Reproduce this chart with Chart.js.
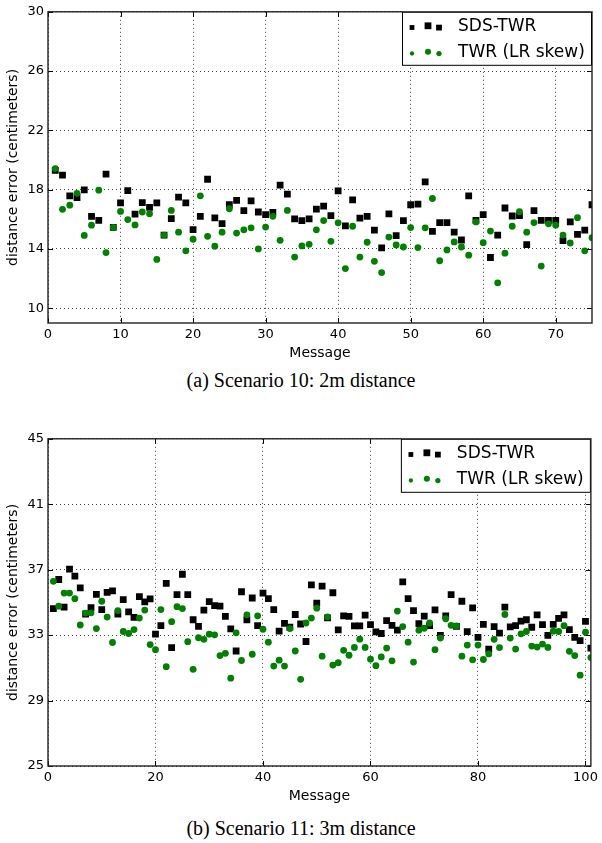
<!DOCTYPE html>
<html>
<head>
<meta charset="utf-8">
<script src="https://cdn.jsdelivr.net/npm/chart.js@4.4.1/dist/chart.umd.min.js"></script>
<style>
  body { margin: 0; background: #fff; }
  #wrap { position: relative; width: 602px; height: 843px; }
  canvas { position: absolute; left: 0; }
  .caption {
    position: absolute; left: 0; width: 602px; text-align: center;
    font-family: "Liberation Serif", "Times New Roman", serif; font-size: 20px; color: #000;
  }
</style>
</head>
<body>
<div id="wrap">
  <canvas id="chartA" width="602" height="368" style="top:0"></canvas>
  <div class="caption" style="top:369px">(a) Scenario 10: 2m distance</div>
  <canvas id="chartB" width="602" height="384" style="top:427px"></canvas>
  <div class="caption" style="top:817px">(b) Scenario 11: 3m distance</div>
</div>
<script>
// scenario 10 (2m) - one value per message, 1..75
const sdsA = [19.3, 18.98, 17.58, 17.47, 17.98, 16.2, 15.93, 19.05, 15.45, 17.1,
  17.93, 16.35, 17.13, 16.8, 17.1, 14.93, 16.05, 17.5, 17.1, 15.3,
  16.2, 18.7, 16.1, 15.7, 16.98, 17.27, 16.58, 17.24, 16.49, 16.31,
  16.47, 18.31, 17.69, 16.02, 15.91, 16.02, 16.69, 16.89, 16.24, 17.91,
  15.56, 17.31, 16.07, 16.2, 15.27, 14.07, 16.36, 14.89, 15.91, 16.98,
  17.02, 18.53, 15.18, 15.78, 15.78, 15.13, 14.6, 17.58, 15.93, 16.31,
  13.42, 14.93, 16.76, 16.22, 16.24, 14.29, 16.58, 15.93, 15.93, 15.93,
  14.56, 15.82, 14.98, 15.27, 16.98];
const twrA = [19.42, 16.67, 16.95, 17.75, 14.91, 15.6, 17.96, 13.75, 15.45, 16.53,
  15.98, 15.62, 16.49, 16.38, 13.29, 14.93, 16.6, 15.13, 13.87, 14.65,
  17.58, 14.85, 14.18, 15.13, 16.71, 15.07, 15.29, 15.42, 14.0, 15.47,
  16.2, 14.58, 16.6, 13.45, 14.2, 14.31, 15.29, 15.91, 14.51, 15.76,
  12.67, 15.53, 13.45, 14.45, 13.16, 12.4, 14.8, 14.27, 14.13, 15.44,
  14.09, 15.42, 17.4, 13.2, 13.93, 14.47, 14.13, 13.58, 15.82, 14.42,
  15.2, 11.71, 13.71, 15.53, 16.51, 15.13, 15.78, 12.84, 15.69, 15.6,
  14.93, 14.4, 16.11, 13.87, 14.76];
const xTicksA = [0, 10, 20, 30, 40, 50, 60, 70];
const yTicksA = [10, 14, 18, 22, 26, 30];

// scenario 11 (3m) - messages 1..101
const sdsB = [34.62, 36.4, 34.71, 37.04, 36.61, 35.89, 34.29, 34.68, 35.49, 34.56,
  35.61, 35.71, 34.29, 35.17, 34.42, 34.08, 35.35, 35.03, 35.21, 33.06,
  33.58, 36.16, 32.24, 35.47, 36.72, 35.47, 33.94, 33.54, 34.53, 35.05,
  34.8, 34.77, 34.14, 33.38, 32.03, 35.65, 33.94, 35.27, 33.58, 35.57,
  35.23, 34.56, 33.24, 33.72, 33.48, 34.26, 33.68, 32.61, 36.07, 34.95,
  35.99, 34.06, 35.59, 33.32, 34.18, 34.14, 33.56, 33.56, 34.22, 33.64,
  33.2, 33.1, 33.88, 33.6, 33.3, 36.25, 35.23, 34.5, 33.7, 34.16,
  33.58, 34.54, 32.98, 34.18, 35.47, 33.54, 35.07, 33.22, 34.67, 32.86,
  33.66, 32.15, 33.52, 33.12, 34.71, 33.5, 33.58, 33.86, 33.94, 33.48,
  34.24, 33.64, 32.99, 33.66, 34.02, 34.24, 33.34, 32.86, 32.66, 33.84,
  32.21];
const twrB = [36.29, 34.77, 35.57, 35.57, 35.23, 33.62, 34.35, 34.36, 33.4, 35.07,
  34.1, 32.55, 34.5, 33.22, 33.1, 33.34, 34.04, 34.53, 32.42, 32.11,
  34.56, 31.07, 33.82, 34.74, 34.62, 32.6, 30.91, 32.84, 32.74, 33.06,
  33.02, 31.75, 31.89, 30.37, 33.14, 31.45, 34.24, 31.83, 34.18, 33.36,
  32.57, 31.11, 31.47, 31.11, 33.4, 32.03, 30.3, 33.74, 34.04, 34.65,
  31.71, 34.12, 31.17, 31.31, 32.07, 31.77, 32.25, 32.75, 32.25, 31.53,
  31.13, 31.67, 32.21, 31.43, 34.47, 33.52, 32.57, 31.35, 33.3, 33.42,
  33.74, 32.11, 32.82, 34.0, 33.6, 33.56, 31.71, 32.39, 31.49, 32.39,
  31.51, 31.85, 32.74, 32.24, 34.26, 32.82, 32.15, 33.08, 33.22, 32.33,
  32.27, 32.45, 32.25, 33.24, 33.22, 33.58, 32.01, 31.75, 30.55, 33.18,
  31.63];
const xTicksB = [0, 20, 40, 60, 80, 100];
const yTicksB = [25, 29, 33, 37, 41, 45];

const seriesNames = ["SDS-TWR", "TWR (LR skew)"];

Chart.defaults.font.family = "DejaVu Sans";
Chart.defaults.color = "#000";

// box round the plot with inward ticks on all four sides
const framePlugin = {
  id: "frame",
  afterDraw(chart) {
    const {ctx, chartArea: a, scales} = chart;
    ctx.save();
    ctx.strokeStyle = "#000";
    ctx.lineWidth = 1;
    ctx.beginPath();
    scales.x.ticks.forEach(t => {
      const px = Math.round(scales.x.getPixelForValue(t.value)) + 0.5;
      ctx.moveTo(px, a.bottom); ctx.lineTo(px, a.bottom - 5);
      ctx.moveTo(px, a.top); ctx.lineTo(px, a.top + 5);
    });
    scales.y.ticks.forEach(t => {
      const py = Math.round(scales.y.getPixelForValue(t.value)) + 0.5;
      ctx.moveTo(a.left, py); ctx.lineTo(a.left + 5, py);
      ctx.moveTo(a.right, py); ctx.lineTo(a.right - 5, py);
    });
    ctx.stroke();
    ctx.strokeStyle = "#222";
    ctx.lineWidth = 1.4;
    ctx.strokeRect(a.left, a.top, a.right - a.left, a.bottom - a.top);
    ctx.restore();
  }
};

// matplotlib-like legend with three scatter markers per entry
const markerLegend = {
  id: "markerLegend",
  afterDraw(chart) {
    const {ctx, chartArea: a} = chart;
    const w = 190, h = 54;
    const left = a.right - w, top = a.top;
    ctx.save();
    ctx.fillStyle = "#fff";
    ctx.fillRect(left, top, w, h);
    ctx.strokeStyle = "#000";
    ctx.lineWidth = 1;
    ctx.strokeRect(left + 0.5, top + 0.5, w - 1, h - 1);
    const offs = [[10, 0.7, 4.8], [26, -1, 6.8], [37, 0.8, 5.8]];
    chart.data.datasets.forEach((ds, i) => {
      const y = top + 15 + i * 26;
      ctx.fillStyle = ds.backgroundColor;
      offs.forEach(([dx, dy, s]) => {
        ctx.beginPath();
        if (ds.pointStyle === "rect") {
          ctx.rect(left + dx - s / 2, y + dy - s / 2, s, s);
        } else {
          ctx.arc(left + dx, y + dy, s * 0.45, 0, Math.PI * 2);
        }
        ctx.fill();
      });
      ctx.fillStyle = "#000";
      ctx.font = "17px 'DejaVu Sans'";
      ctx.textBaseline = "middle";
      ctx.textAlign = "left";
      ctx.fillText(ds.label, left + 56, y);
    });
    ctx.restore();
  }
};

function makeChart(id, sds, twr, xMax, xTicks, yMin, yMax, yTicks) {
  const msgs = sds.map((_, i) => i + 1);
  return new Chart(document.getElementById(id), {
    type: "scatter",
    data: {
      datasets: [
        {
          label: seriesNames[0],
          data: msgs.map((m, i) => ({x: m, y: sds[i]})),
          pointStyle: "rect",
          pointRadius: 4.8,
          backgroundColor: "#000",
          borderWidth: 0,
          order: 1,
          clip: 0
        },
        {
          label: seriesNames[1],
          data: msgs.map((m, i) => ({x: m, y: twr[i]})),
          pointStyle: "circle",
          pointRadius: 3.4,
          backgroundColor: "#008000",
          borderWidth: 0,
          order: 0,
          clip: 0
        }
      ]
    },
    options: {
      responsive: false,
      animation: false,
      devicePixelRatio: 1,
      layout: {padding: {left: 0, right: 10, top: 9, bottom: 0}},
      plugins: {legend: {display: false}, tooltip: {enabled: false}},
      scales: {
        x: {
          type: "linear",
          min: 0,
          max: xMax,
          afterBuildTicks: s => { s.ticks = xTicks.map(v => ({value: v})); },
          afterFit: s => { s.height = 45; },
          grid: {color: "rgba(0,0,0,0.75)", lineWidth: 1, drawTicks: false},
          border: {display: false, dash: [1, 3]},
          ticks: {font: {size: 13}, padding: 4, maxRotation: 0},
          title: {display: true, text: "Message", font: {size: 14}, padding: {top: 0, bottom: 6}}
        },
        y: {
          min: yMin,
          max: yMax,
          afterBuildTicks: s => { s.ticks = yTicks.map(v => ({value: v})); },
          afterFit: s => { s.width = 48; },
          grid: {color: "rgba(0,0,0,0.75)", lineWidth: 1, drawTicks: false},
          border: {display: false, dash: [1, 3]},
          ticks: {font: {size: 13}, padding: 4},
          title: {display: true, text: "distance error (centimeters)", font: {size: 14}, padding: {top: 5, bottom: 0}}
        }
      }
    },
    plugins: [framePlugin, markerLegend]
  });
}

makeChart("chartA", sdsA, twrA, 75, xTicksA, 9, 30, yTicksA);
makeChart("chartB", sdsB, twrB, 101, xTicksB, 25, 45, yTicksB);
</script>
</body>
</html>
